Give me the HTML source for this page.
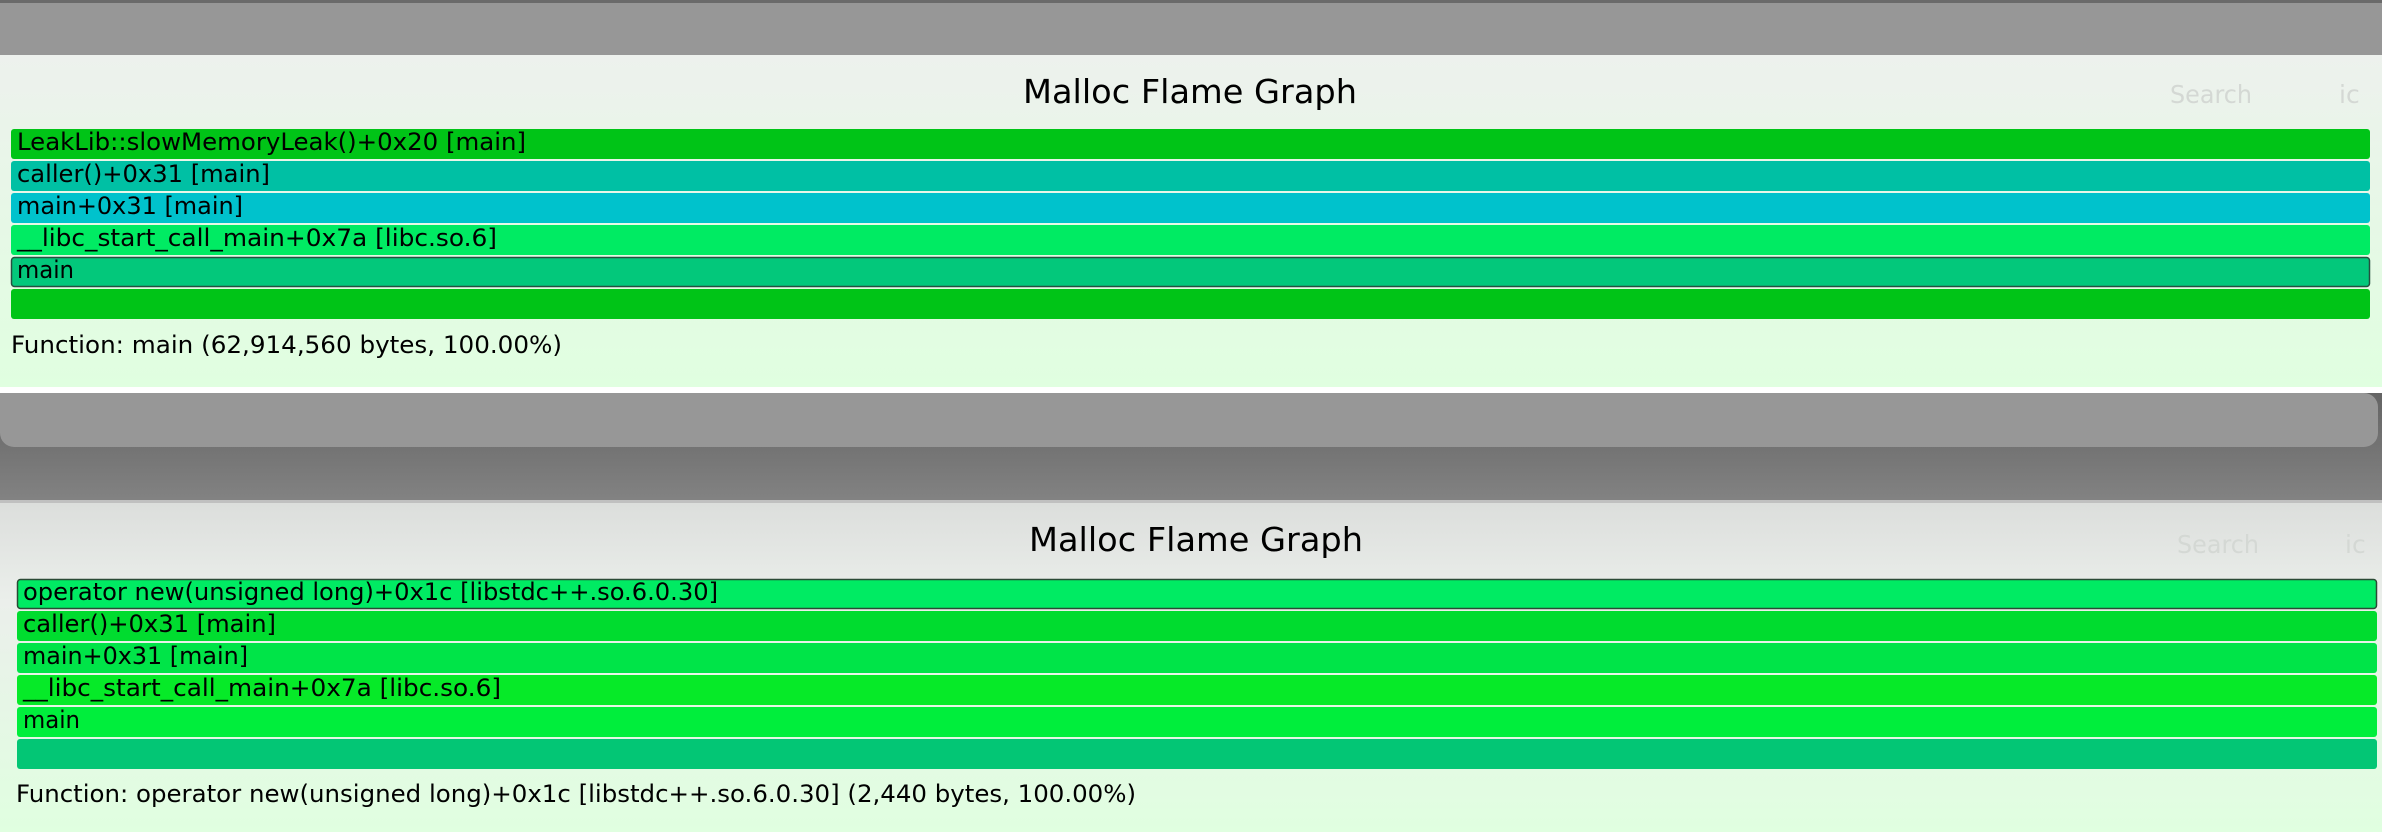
<!DOCTYPE html>
<html><head><meta charset="utf-8"><style>
html,body{margin:0;padding:0;width:2382px;height:832px;overflow:hidden;background:#999}
svg{display:block}
text{font-family:"DejaVu Sans","Liberation Sans",sans-serif}
.b{font-size:24px;fill:#000}
</style></head><body>
<svg width="2382" height="832" viewBox="0 0 2382 832" xmlns="http://www.w3.org/2000/svg">
<defs>
<linearGradient id="p1" x1="0" y1="0" x2="0" y2="1"><stop offset="0" stop-color="#edf1ed"/><stop offset="1" stop-color="#e0ffe0"/></linearGradient>
<linearGradient id="p2" x1="0" y1="0" x2="0" y2="1"><stop offset="0" stop-color="#dcdedc"/><stop offset="0.3" stop-color="#ebefeb"/><stop offset="1" stop-color="#e0ffe0"/></linearGradient>
<linearGradient id="dk" x1="0" y1="0" x2="0" y2="1"><stop offset="0" stop-color="#646464"/><stop offset="1" stop-color="#838383"/></linearGradient>
</defs>
<rect x="0" y="0" width="2382" height="55" fill="#979797"/>
<rect x="0" y="0" width="2382" height="3" fill="#6a6a6a"/>
<rect x="0" y="55" width="2382" height="332" fill="url(#p1)"/>
<rect x="0" y="387" width="2382" height="6" fill="#ffffff"/>
<rect x="0" y="393" width="2382" height="110" fill="url(#dk)"/>
<rect x="0" y="393" width="2378" height="54" rx="14" fill="#979797"/>
<rect x="0" y="393" width="2300" height="20" fill="#979797"/>
<rect x="0" y="500" width="2382" height="3" fill="#c0c0c0"/>
<rect x="0" y="503" width="2382" height="329" fill="url(#p2)"/>

<text x="1190" y="103" text-anchor="middle" font-size="33" textLength="334" lengthAdjust="spacingAndGlyphs">Malloc Flame Graph</text>
<text x="2170" y="103" font-size="25" fill="#d4d8d4" textLength="82" lengthAdjust="spacingAndGlyphs">Search</text>
<text x="2339" y="103" font-size="25" fill="#d4d8d4">ic</text>

<rect x="11" y="129" width="2359" height="30" rx="3" fill="#00c417"/>
<rect x="11" y="161" width="2359" height="30" rx="3" fill="#00c0a4"/>
<rect x="11" y="193" width="2359" height="30" rx="3" fill="#00c2cc"/>
<rect x="11" y="225" width="2359" height="30" rx="3" fill="#00eb63"/>
<rect x="11.5" y="257.5" width="2358" height="29" rx="3" fill="#03c87b" stroke="#245040" stroke-width="1.5"/>
<rect x="11" y="289" width="2359" height="30" rx="3" fill="#00c417"/>
<text class="b" x="17" y="150" textLength="509" lengthAdjust="spacingAndGlyphs">LeakLib::slowMemoryLeak()+0x20 [main]</text>
<text class="b" x="17" y="182" textLength="253" lengthAdjust="spacingAndGlyphs">caller()+0x31 [main]</text>
<text class="b" x="17" y="214" textLength="226" lengthAdjust="spacingAndGlyphs">main+0x31 [main]</text>
<text class="b" x="17" y="246" textLength="480" lengthAdjust="spacingAndGlyphs">__libc_start_call_main+0x7a [libc.so.6]</text>
<text class="b" x="17" y="278" textLength="57" lengthAdjust="spacingAndGlyphs">main</text>
<text class="b" x="11" y="353" textLength="551" lengthAdjust="spacingAndGlyphs">Function: main (62,914,560 bytes, 100.00%)</text>

<text x="1196" y="551" text-anchor="middle" font-size="33" textLength="334" lengthAdjust="spacingAndGlyphs">Malloc Flame Graph</text>
<text x="2177" y="553" font-size="25" fill="#d4d8d4" textLength="82" lengthAdjust="spacingAndGlyphs">Search</text>
<text x="2345" y="553" font-size="25" fill="#d4d8d4">ic</text>

<rect x="17.5" y="579.5" width="2359" height="29" rx="3" fill="#00eb63" stroke="#2a4a35" stroke-width="1.5"/>
<rect x="17" y="611" width="2360" height="30" rx="3" fill="#00dc2f"/>
<rect x="17" y="643" width="2360" height="30" rx="3" fill="#00e448"/>
<rect x="17" y="675" width="2360" height="30" rx="3" fill="#06ea28"/>
<rect x="17" y="707" width="2360" height="30" rx="3" fill="#00ee3c"/>
<rect x="17" y="739" width="2360" height="30" rx="3" fill="#03c675"/>
<text class="b" x="23" y="600" textLength="695" lengthAdjust="spacingAndGlyphs">operator new(unsigned long)+0x1c [libstdc++.so.6.0.30]</text>
<text class="b" x="23" y="632" textLength="253" lengthAdjust="spacingAndGlyphs">caller()+0x31 [main]</text>
<text class="b" x="23" y="664" textLength="225" lengthAdjust="spacingAndGlyphs">main+0x31 [main]</text>
<text class="b" x="23" y="696" textLength="478" lengthAdjust="spacingAndGlyphs">__libc_start_call_main+0x7a [libc.so.6]</text>
<text class="b" x="23" y="728" textLength="57" lengthAdjust="spacingAndGlyphs">main</text>
<text class="b" x="16" y="802" textLength="1120" lengthAdjust="spacingAndGlyphs">Function: operator new(unsigned long)+0x1c [libstdc++.so.6.0.30] (2,440 bytes, 100.00%)</text>
</svg>
</body></html>
